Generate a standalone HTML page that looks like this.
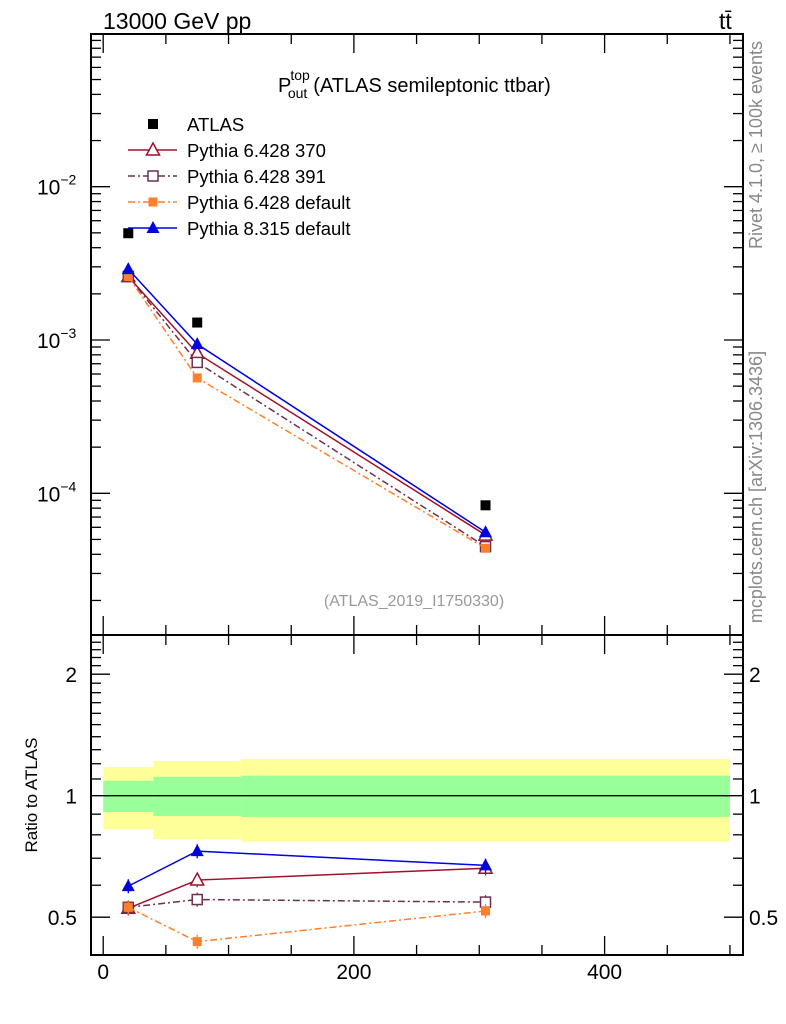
<!DOCTYPE html>
<html><head><meta charset="utf-8"><style>
html,body{margin:0;padding:0;background:#fff}
svg{display:block;font-family:"Liberation Sans",sans-serif}
</style></head><body>
<svg id="c" width="786" height="1024" viewBox="0 0 786 1024" xmlns="http://www.w3.org/2000/svg">
<g id="bands"></g>
<g id="marks"></g>
<g id="axes"></g>
<text x="103" y="29" font-size="23">13000 GeV pp</text>
<text x="719" y="29" font-size="23">tt̄</text>
<text x="278" y="92" font-size="20">P<tspan font-size="14" dy="-12" dx="-1">top</tspan><tspan font-size="14" dy="18" dx="-22">out</tspan><tspan dy="-6" dx="6">(ATLAS semileptonic ttbar)</tspan></text>
<text x="414" y="606" font-size="16" fill="#999" text-anchor="middle">(ATLAS_2019_I1750330)</text>
<text transform="translate(762,145) rotate(-90)" font-size="18" fill="#888" text-anchor="middle">Rivet 4.1.0, ≥ 100k events</text>
<text transform="translate(762,487) rotate(-90)" font-size="18" fill="#888" text-anchor="middle">mcplots.cern.ch [arXiv:1306.3436]</text>
<text transform="translate(37,795) rotate(-90)" font-size="17" text-anchor="middle">Ratio to ATLAS</text>
<g id="legend"></g>
</svg>
<script>
const xCenters=[20,75,305];
const binEdges=[0,40,110,500];
const atlas=[4.97e-3,1.30e-3,8.35e-5];
const py370=[2.59e-3,8.2e-4,5.34e-5];
const py391=[2.6e-3,7.14e-4,4.49e-5];
const py6def=[2.6e-3,5.66e-4,4.38e-5];
const py8def=[2.9e-3,9.4e-4,5.57e-5];
const r370=[0.526,0.618,0.661];
const r391=[0.529,0.553,0.545];
const r6def=[0.529,0.435,0.518];
const r8def=[0.597,0.729,0.672];
const yellowHi=[1.178,1.219,1.233];
const yellowLo=[0.825,0.781,0.769];
const greenHi=[1.089,1.114,1.121];
const greenLo=[0.911,0.891,0.886];
const xTicks=[0,200,400];
const mainTickLabels=[-2,-3,-4];
const ratioTickLabels=[0.5,1,2];

const NS="http://www.w3.org/2000/svg";
const L=91,R=743,T=34,MB=635,RB=955;
const X=v=>103.2+v*1.2535;
const YM=v=>186.7-(Math.log10(v)+2)*153.3;
const YR=v=>795.7-Math.log10(v)*403.6;
function el(tag,attrs,parent){const e=document.createElementNS(NS,tag);for(const k in attrs)e.setAttribute(k,attrs[k]);parent.appendChild(e);return e;}
const bands=document.getElementById('bands'),marks=document.getElementById('marks'),axes=document.getElementById('axes'),legend=document.getElementById('legend');

for(let i=0;i<3;i++){
  const x0=X(binEdges[i]),x1=X(binEdges[i+1]);
  const y=el('rect',{x:x0,y:YR(yellowHi[i]),width:x1-x0,height:YR(yellowLo[i])-YR(yellowHi[i]),fill:'#ffff99'},bands);
  
  
  const g=el('rect',{x:x0,y:YR(greenHi[i]),width:x1-x0,height:YR(greenLo[i])-YR(greenHi[i]),fill:'#99ff99'},bands);
  
  
}
const one=el('line',{x1:X(0),x2:X(500),y1:YR(1),y2:YR(1),stroke:'#000','stroke-width':1.3},bands);



function marker(type,x,y,color,parent,name){
  let m;
  if(type==='sq') m=el('rect',{x:x-5,y:y-5,width:10,height:10,fill:color},parent);
  else if(type==='osq') m=el('rect',{x:x-5,y:y-5,width:10,height:10,fill:'#fff',stroke:color,'stroke-width':1.5},parent);
  else if(type==='ssq') m=el('rect',{x:x-4.5,y:y-4.5,width:9,height:9,fill:color},parent);
  else if(type==='otri') m=el('polygon',{points:`${x},${y-7} ${x-6.5},${y+5} ${x+6.5},${y+5}`,fill:'#fff',stroke:color,'stroke-width':1.5},parent);
  else m=el('polygon',{points:`${x},${y-7} ${x-6.5},${y+5} ${x+6.5},${y+5}`,fill:color},parent);
  
  
}
const series=[
  {name:'pythia-6428-370',main:py370,ratio:r370,color:'#a0102a',dash:'',mk:'otri'},
  {name:'pythia-6428-391',main:py391,ratio:r391,color:'#6a3050',dash:'7,3,2,3',mk:'osq'},
  {name:'pythia-6428-default',main:py6def,ratio:r6def,color:'#ff7f2a',dash:'7,3,2,3',mk:'ssq'},
  {name:'pythia-8315-default',main:py8def,ratio:r8def,color:'#0000e0',dash:'',mk:'tri'}
];
series.forEach(s=>{
  const p1=el('polyline',{points:xCenters.map((x,i)=>X(x)+','+YM(s.main[i])).join(' '),fill:'none',stroke:s.color,'stroke-width':1.5,'stroke-dasharray':s.dash},marks);
  
  
  const p2=el('polyline',{points:xCenters.map((x,i)=>X(x)+','+YR(s.ratio[i])).join(' '),fill:'none',stroke:s.color,'stroke-width':1.5,'stroke-dasharray':s.dash},marks);
  
  
  xCenters.forEach((x,i)=>{
    const e=el('line',{x1:X(x),x2:X(x),y1:YR(s.ratio[i]*1.04),y2:YR(s.ratio[i]*0.96),stroke:s.color,'stroke-width':1.3},marks);
    
    
    marker(s.mk,X(x),YM(s.main[i]),s.color,marks,s.name+'-point');
    marker(s.mk,X(x),YR(s.ratio[i]),s.color,marks,s.name+'-ratio-point');
  });
});
xCenters.forEach((x,i)=>marker('sq',X(x),YM(atlas[i]),'#000',marks,'atlas-point'));

[[T,MB],[MB,RB]].forEach(([a,b],k)=>{
  const f=el('rect',{x:L,y:a,width:R-L,height:b-a,fill:'none',stroke:'#000','stroke-width':2},axes);
  
  
});
function tick(x1,y1,x2,y2){const t=el('line',{x1,y1,x2,y2,stroke:'#000','stroke-width':1.3},axes);}
for(let v=0;v<=500;v+=50){
  const x=X(v),len=(v%200===0)?19:10;
  [T,MB].forEach(y=>tick(x,y,x,y+len));
  [MB,RB].forEach(y=>tick(x,y,x,y-len));
}
for(let d=-5;d<=-1;d++){for(let m=1;m<10;m++){
  const v=m*Math.pow(10,d),y=YM(v);if(y<T||y>MB)continue;
  const len=m===1?19:10;tick(L,y,L+len,y);tick(R,y,R-len,y);
}}
const rt=[0.4,0.5,0.6,0.7,0.8,0.9,1,1.1,1.2,1.3,1.4,1.5,1.6,1.7,1.8,1.9,2,2.1,2.2,2.3,2.4,2.5];
rt.forEach(v=>{const y=YR(v);if(y<MB+2||y>RB-2)return;const len=(v===0.5||v===1||v===2)?19:10;tick(L,y,L+len,y);tick(R,y,R-len,y);});
xTicks.forEach(v=>{const t=el('text',{x:X(v),y:979,'font-size':21,'text-anchor':'middle'},axes);t.textContent=v;});
mainTickLabels.forEach(d=>{const t=el('text',{x:37,y:YM(Math.pow(10,d))+8,'font-size':21},axes);t.innerHTML='10<tspan font-size="14" dy="-10">'+'\u2212'+(-d)+'</tspan>';});
ratioTickLabels.forEach(v=>{
  const t=el('text',{x:77,y:YR(v)+8,'font-size':21,'text-anchor':'end'},axes);t.textContent=v;
  const t2=el('text',{x:749,y:YR(v)+8,'font-size':21},axes);t2.textContent=v;
});
const leg=[{t:'ATLAS',mk:'sq',c:'#000',line:false,dash:''}].concat(series.map((s,i)=>({t:['Pythia 6.428 370','Pythia 6.428 391','Pythia 6.428 default','Pythia 8.315 default'][i],mk:s.mk,c:s.color,line:true,dash:s.dash})));
leg.forEach((e,i)=>{
  const y=122+i*26;
  if(e.line){const l=el('line',{x1:128,x2:177,y1:y+2,y2:y+2,stroke:e.c,'stroke-width':1.5,'stroke-dasharray':e.dash},legend);}
  marker(e.mk,153,y+2,e.c,legend,'legend-marker');
  const t=el('text',{x:187,y:y+9,'font-size':18.5},legend);t.textContent=e.t;
  
  
});
</script>
</body></html>
